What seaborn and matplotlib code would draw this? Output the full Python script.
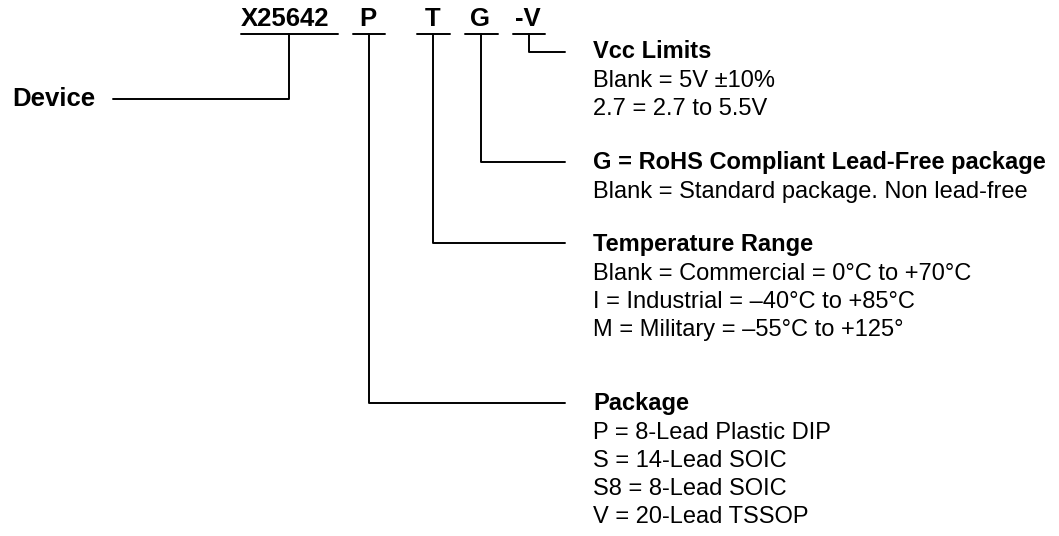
import matplotlib
matplotlib.use("Agg")
import matplotlib.pyplot as plt
import seaborn as sns

# ordering-code fields along the top
codes = ["X25642", "P", "T", "G", "-V"]
code_x = [289, 369, 433, 481, 529]        # centre of each underline / drop line
code_halfw = [48.5, 16, 16.5, 16.5, 16]   # half width of each underline
code_text_x = [285, 368, 433, 480, 528]
code_base = 26
underline_y = 34

# where each drop line turns right (or left for the device)
branch_y = [99, 403, 243, 162, 52]
branch_end = [113, 565, 565, 565, 565]

# description blocks (heading, lines), heading baseline
headings = ["Vcc Limits", "G = RoHS Compliant Lead-Free package",
            "Temperature Range", "Package"]
heading_base = [58, 169, 251, 410]
bodies = [
    ["Blank = 5V \u00b110%", "2.7 = 2.7 to 5.5V"],
    ["Blank = Standard package. Non lead-free"],
    ["Blank = Commercial = 0\u00b0C to +70\u00b0C",
     "I = Industrial = \u201340\u00b0C to +85\u00b0C",
     "M = Military = \u201355\u00b0C to +125\u00b0"],
    ["P = 8-Lead Plastic DIP", "S = 14-Lead SOIC",
     "S8 = 8-Lead SOIC", "V = 20-Lead TSSOP"],
]
text_x = 593
first_gap = 29
line_gap = 28

sns.set_style("white")
plt.rcParams["font.family"] = ["Liberation Sans", "DejaVu Sans"]
plt.rcParams["text.color"] = "black"

fig = plt.figure(figsize=(10.59, 5.36), dpi=100)
ax = fig.add_axes([0, 0, 1, 1])
ax.set_xlim(0, 1059)
ax.set_ylim(536, 0)
ax.axis("off")

lw = 1.4
for name, cx, hw, tx, by, bx in zip(codes, code_x, code_halfw, code_text_x,
                                    branch_y, branch_end):
    ax.text(tx, code_base, name, fontsize=18.5, fontweight="bold",
            ha="center", va="baseline")
    ax.plot([cx - hw, cx + hw], [underline_y, underline_y], color="black", lw=lw)
    ax.plot([cx, cx, bx], [underline_y, by, by], color="black", lw=lw)

ax.text(12, 106, "Device", fontsize=18.5, fontweight="bold", va="baseline")

for head, hb, body in zip(headings, heading_base, bodies):
    ax.text(text_x, hb, head, fontsize=17, fontweight="bold", va="baseline")
    y = hb + first_gap
    for line in body:
        ax.text(text_x, y, line, fontsize=17, va="baseline")
        y += line_gap

fig.savefig("out.png", dpi=100)
